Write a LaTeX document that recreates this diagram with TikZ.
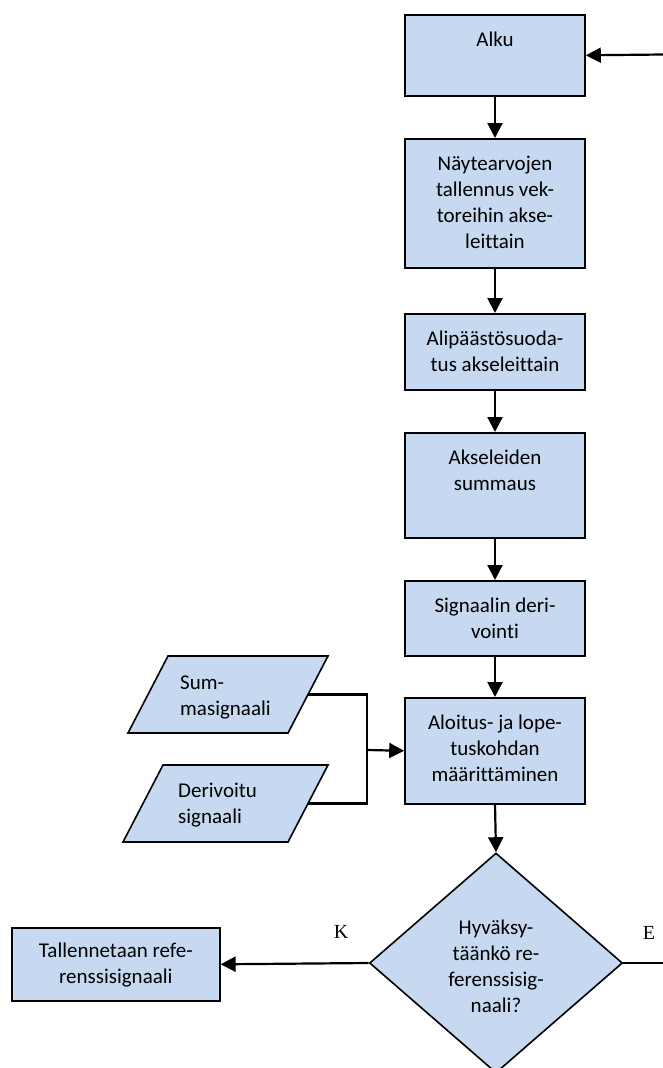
\documentclass[tikz,border=0pt]{standalone}
\usepackage{fontspec}
\setmainfont{Carlito}[Ligatures=NoCommon]
\newfontfamily\labelfont{Liberation Serif}
\usetikzlibrary{arrows.meta,shapes.geometric}
\definecolor{boxfill}{RGB}{198,217,240}
\begin{document}
\begin{tikzpicture}[x=1bp,y=-1bp,
  procbox/.style={draw=black,fill=boxfill,line width=1.6bp,inner sep=0pt,
    minimum width=180bp,anchor=north},
  freetext/.style={anchor=north,inner sep=0pt,align=center,
    font=\fontsize{21bp}{26bp}\selectfont},
  boxtext/.style={freetext,yshift=-13.8bp},
  io/.style={draw=black,fill=boxfill,line width=1.6bp,line join=miter},
  iotext/.style={anchor=north west,inner sep=0pt,align=left,
    font=\fontsize{21bp}{26bp}\selectfont},
  flow/.style={line width=2.2bp,-{Triangle[length=15bp,width=15bp]}},
  plain/.style={line width=2.2bp},
  yn/.style={font=\labelfont\fontsize{20bp}{24bp}\selectfont,inner sep=0pt}]
\useasboundingbox (0,0) rectangle (663,1068);
\clip (0,0) rectangle (663,1068);

% main column of process boxes
\node[procbox,minimum height=81bp]  (alku)  at (495,14)  {};
\node[procbox,minimum height=129bp] (nayte) at (495,138) {};
\node[procbox,minimum height=76bp]  (lpf)   at (495,313) {};
\node[procbox,minimum height=105bp] (summa) at (495,432) {};
\node[procbox,minimum height=75bp]  (deriv) at (495,580) {};
\node[procbox,minimum height=106bp] (kohta) at (495,697) {};

\node[boxtext] (talku)  at (alku.north)  {\strut Alku};
\node[boxtext] (tnayte) at (nayte.north) {\strut Näytearvojen\\tallennus vek-\\toreihin akse-\\leittain};
\node[boxtext] (tlpf)   at (lpf.north)   {\strut Alipäästösuoda-\\tus akseleittain};
\node[boxtext] (tsumma) at (summa.north) {\strut Akseleiden\\summaus};
\node[boxtext] (tderiv) at (deriv.north) {\strut Signaalin deri-\\vointi};
\node[boxtext] (tkohta) at (kohta.north) {\strut Aloitus- ja lope-\\tuskohdan\\määrittäminen};

% decision
\node[diamond,draw=black,fill=boxfill,line width=1.6bp,inner sep=0pt,
  minimum width=253bp,minimum height=220bp] (hyv) at (496,963) {};
\node[freetext] (thyv) at (496,916.5) {\strut Hyväksy-\\täänkö re-\\ferenssisig-\\naali?};

% store box on the left
\node[draw=black,fill=boxfill,line width=1.6bp,inner sep=0pt,anchor=north west,
  minimum width=208bp,minimum height=73bp] (tall) at (11,927) {};
\node[freetext,yshift=-12bp] (ttall) at (tall.north) {\strut Tallennetaan refe-\\renssisignaali};

% input data (parallelograms)
\draw[io] (168,656) -- (328,656) -- (288,733) -- (128,733) -- cycle;
\coordinate (sumR) at (308,694.5);
\node[iotext] (tsum) at (180,670.8) {\strut Sum-\\masignaali};

\draw[io] (163,765) -- (328,765) -- (288,842) -- (123,842) -- cycle;
\coordinate (derR) at (308,803.5);
\node[iotext] (tder) at (178,778.8) {\strut Derivoitu\\signaali};

\coordinate (junc) at (367,750);
\coordinate (backin) at (663,54.5);
\coordinate (eout) at (663,963);

% connectors
\draw[flow] (backin) -- (alku.east);
\draw[flow] (alku.south) -- (nayte.north);
\draw[flow] (nayte.south) -- (lpf.north);
\draw[flow] (lpf.south) -- (summa.north);
\draw[flow] (summa.south) -- (deriv.north);
\draw[flow] (deriv.south) -- (kohta.north);
\draw[flow] (kohta.south) -- (hyv.north);
\draw[plain] (sumR) -| (junc) |- (derR);
\draw[flow] (junc) -- (kohta.west);
\draw[flow] (hyv.west) -- (tall.east);
\draw[plain] (hyv.east) -- (eout);

% branch labels
\node[yn] (lk) at (341,932) {K};
\node[yn] (le) at (649,933) {E};
\end{tikzpicture}
\end{document}
